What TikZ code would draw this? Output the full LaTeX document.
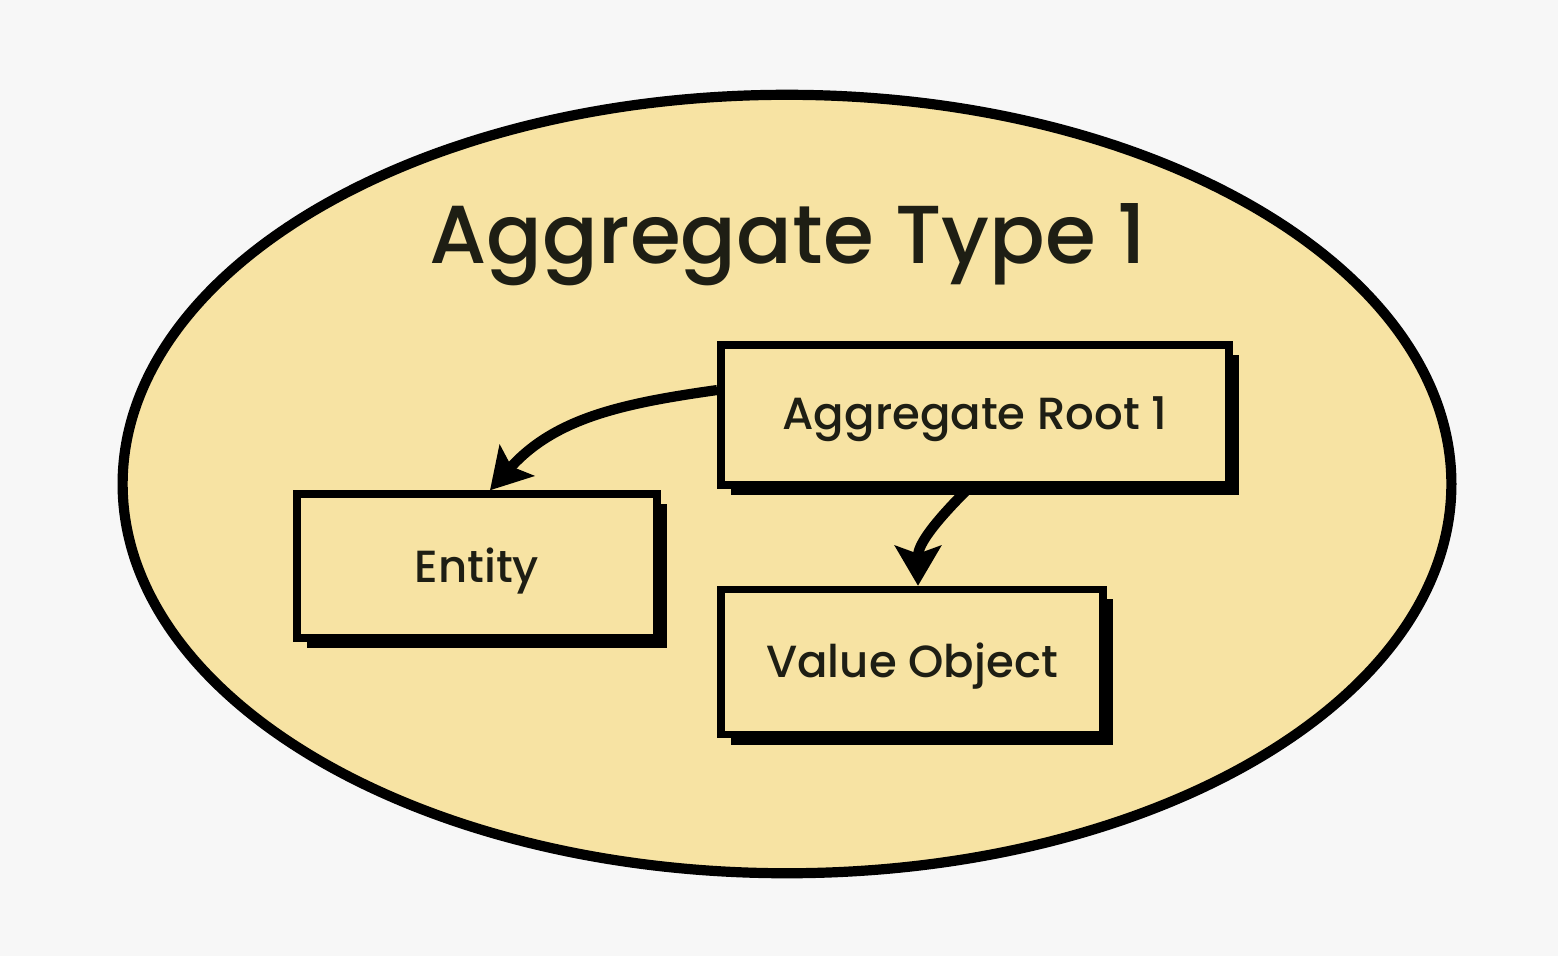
\documentclass[tikz,border=0pt]{standalone}
\usepackage{fontspec}
\setmainfont{Poppins}[UprightFont=* Medium]
\usetikzlibrary{shapes.geometric,shadows,arrows.meta}
\definecolor{bgpaper}{HTML}{F7F7F7}
\definecolor{sand}{HTML}{F7E3A3}
\definecolor{ink}{HTML}{1E1E14}
% box labels sit a little below the geometric centre (dimensions kept, ink lowered)
\newcommand\boxlabel[1]{\raisebox{-0.045cm}[\height][\depth]{#1}}
\tikzset{
  x=0.01cm, y=-0.01cm,
  boundary/.style={ellipse, draw=black, line width=2.9pt, fill=sand,
    minimum width=13.28cm, minimum height=7.78cm, inner sep=0pt},
  modelbox/.style={rectangle, draw=black, line width=2.1pt, fill=sand,
    text=ink, font=\fontsize{12.8}{15}\selectfont, inner sep=0pt,
    drop shadow={shadow xshift=0.1cm, shadow yshift=-0.1cm, opacity=1, fill=black}},
  link/.style={line width=2.9pt, draw=black,
    -{Stealth[length=0.4cm, width=0.46cm, inset=0.08cm]}},
}
\begin{document}
\begin{tikzpicture}
  \fill[bgpaper] (0,0) rectangle (1558,956);
  \useasboundingbox (0,0) rectangle (1558,956);

  \node[boundary] (agg) at (787,484) {};
  \node[text=ink, font=\fontsize{23.4}{28}\selectfont] (title) at (788,245) {Aggregate Type 1};

  \node[modelbox, minimum width=5.08cm, minimum height=1.40cm] (root) at (975,415) {\boxlabel{Aggregate Root 1}};
  \node[modelbox, minimum width=3.60cm, minimum height=1.44cm] (entity) at (477,566) {\boxlabel{Entity}};
  \node[modelbox, minimum width=3.82cm, minimum height=1.45cm] (value) at (912,662) {\boxlabel{Value Object}};

  \draw[link] (root.west |- 0,390) to[out=188, in=48] (entity.north -| 490,0);
  \draw[link] (root.south -| 968,0) to[out=225, in=90] (value.north -| 918,0);
\end{tikzpicture}
\end{document}
